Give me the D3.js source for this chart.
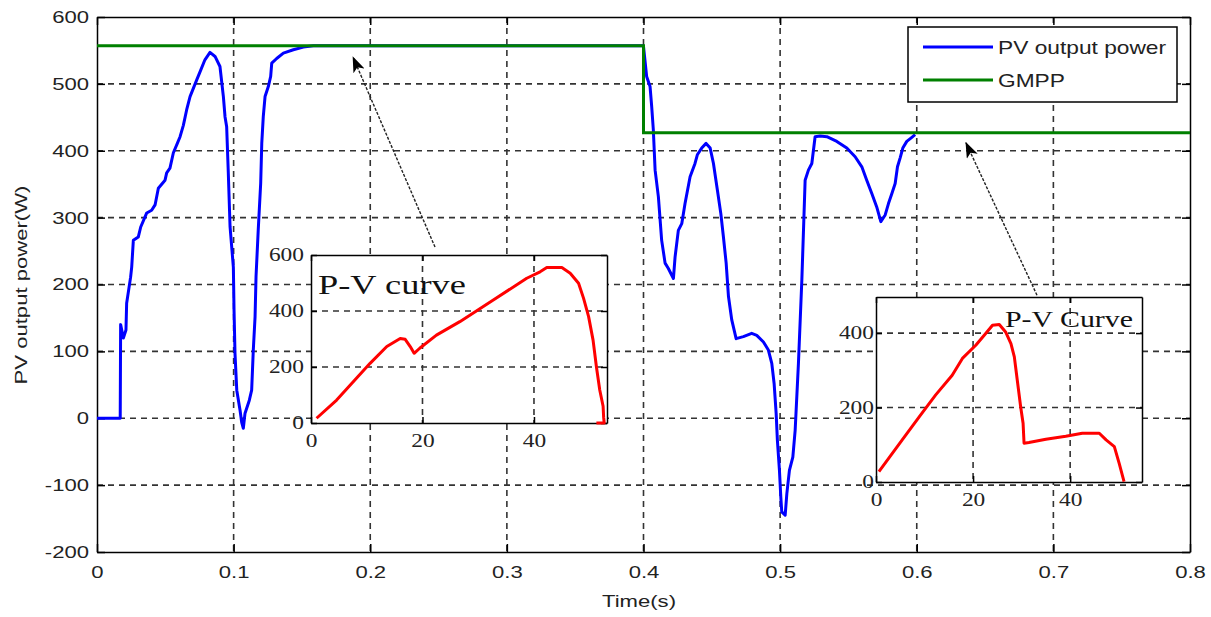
<!DOCTYPE html>
<html>
<head>
<meta charset="utf-8">
<script src="https://cdn.jsdelivr.net/npm/d3@7"></script>
<style>
  body { margin: 0; background: #fff; }
  svg { display: block; }
</style>
</head>
<body>
<svg id="chart" width="1211" height="617"></svg>
<script>
// PV output power (blue) - time in s, power in W
const pvTime = [0, 0.017, 0.0173, 0.0193, 0.0212, 0.0217, 0.0246, 0.0254, 0.0266, 0.0302, 0.032, 0.0364, 0.04, 0.0425,
  0.0449, 0.0498, 0.051, 0.0534, 0.0559, 0.0588, 0.0608, 0.0632, 0.0656, 0.0681, 0.073, 0.0754, 0.079, 0.0827, 0.0864,
  0.09, 0.0925, 0.0937, 0.0949, 0.0961, 0.0974, 0.0998, 0.1003, 0.101, 0.1023, 0.1047, 0.1059, 0.1071, 0.1083, 0.1115,
  0.1132, 0.1144, 0.1157, 0.1164, 0.118, 0.1198, 0.1206, 0.1217, 0.123, 0.1254, 0.1271, 0.1279, 0.1315, 0.1364, 0.1437,
  0.151, 0.1583, 0.25, 0.3995,
  0.4, 0.4023, 0.4048, 0.406, 0.4072, 0.4085, 0.4109, 0.4133, 0.4158, 0.4182, 0.4219, 0.4231, 0.4255, 0.428, 0.4304,
  0.4341, 0.4377, 0.4394, 0.4426, 0.4458, 0.4488, 0.4512, 0.4541, 0.4566, 0.4585, 0.4605, 0.4622, 0.4646, 0.4678,
  0.4731, 0.4792, 0.4829, 0.4878, 0.4914, 0.4939, 0.4956, 0.4971, 0.498, 0.4995, 0.5005, 0.5012, 0.5037, 0.5049,
  0.5068, 0.5093, 0.511, 0.5122, 0.5134, 0.5147, 0.5159, 0.5171, 0.5183, 0.5207, 0.5232, 0.5256, 0.5293, 0.5342,
  0.5415, 0.5488, 0.5549, 0.5598, 0.5634, 0.5671, 0.5707, 0.5737, 0.5769, 0.5793, 0.5818, 0.5842, 0.5859, 0.5878,
  0.5898, 0.5927, 0.5964, 0.5988];
const pvPower = [0, 0, 140, 120, 132, 172, 211, 226, 266, 271, 286, 307, 311, 319,
  344, 356, 367, 374, 397, 411, 421, 438, 461, 481, 506, 518, 536, 547, 541,
  526, 481, 451, 436, 367, 286, 226, 162, 97, 42, 12, -6, -15, 7, 27,
  42, 102, 152, 212, 281, 351, 411, 451, 481, 496, 511, 531, 538, 546, 551,
  555, 557, 557, 557,
  556, 511, 496, 466, 431, 371, 331, 266, 232, 224, 209, 241, 281, 291, 321,
  361, 381, 394, 404, 411, 404, 381, 341, 306, 271, 232, 182, 147, 119,
  122, 127, 124, 114, 102, 82, 52, 7, -33, -78, -118, -140, -145, -113,
  -78, -58, -18, 32, 82, 147, 207, 281, 356, 371, 381, 421, 422, 421,
  414, 404, 391, 376, 356, 336, 316, 294, 304, 321, 336, 351, 376, 389,
  404, 414, 420, 424];

// GMPP reference (green)
const gmppTime = [0, 0.4, 0.4, 0.8];
const gmppPower = [557, 557, 427, 427];

// P-V curve insets
const pv1Volt = [1, 4.6, 10.6, 13.6, 16, 16.9, 17.8, 18.5, 19.5, 22.5, 26.7, 32.7, 38.7, 41.1, 42.3, 45, 46.5,
  48, 48.9, 49.8, 50.6, 51.2, 51.8, 52.4, 52.5, 52.6, 51.2];
const pv1Pow = [17, 82, 213, 273, 302, 299, 273, 249, 267, 314, 362, 439, 517, 540, 555, 555, 535,
  499, 445, 380, 296, 201, 118, 60, 20, 0, 0];
const pv2Volt = [0.6, 5.4, 8.9, 12.3, 15.7, 17.8, 20.6, 22.6, 24, 25.4, 26.7, 27.8, 28.5, 29.1, 29.8, 30.3, 30.5,
  31.5, 35, 39.1, 42.5, 46, 47.4, 49.1, 50.1, 51.1];
const pv2Pow = [28, 113, 175, 234, 287, 332, 368, 399, 421, 423, 403, 372, 336, 274, 202, 158, 104,
  106, 115, 123, 131, 131, 113, 95, 50, 1];

const xTicks = [0, 0.1, 0.2, 0.3, 0.4, 0.5, 0.6, 0.7, 0.8];
const yTicks = [-200, -100, 0, 100, 200, 300, 400, 500, 600];

const legendNames = ["PV output power", "GMPP"];
const legendColors = ["#0000ff", "#008000"];

// arrows: [tail time, tail power, tip time, tip power]
const arrows = [
  [0.2474, 256, 0.1874, 540],
  [0.688, 184, 0.636, 412]
];

const svg = d3.select("#chart");
const mLeft = 97, mTop = 17, plotW = 1093, plotH = 535;
const gridColor = "#333";
const textColor = "#222";
const sans = '"Liberation Sans", Arial, sans-serif';
const serif = '"Liberation Serif", "Times New Roman", serif';
const stretch = 1.3; // the picture's text is wide along its reading direction

const x = d3.scaleLinear().domain([0, 0.8]).range([mLeft, mLeft + plotW]);
const y = d3.scaleLinear().domain([-200, 600]).range([mTop + plotH, mTop]);

function wideText(parent, px, py, str, font, size, anchor) {
  return parent.append("text")
    .attr("transform", `translate(${px},${py}) scale(${stretch},1)`)
    .attr("text-anchor", anchor || "start")
    .attr("fill", textColor)
    .style("font-family", font).style("font-size", size + "px")
    .text(str);
}

// grid
const grid = svg.append("g").attr("class", "grid");
grid.selectAll("line.gx").data(xTicks.slice(1, -1)).join("line")
  .attr("x1", d => x(d)).attr("x2", d => x(d))
  .attr("y1", mTop).attr("y2", mTop + plotH)
  .attr("stroke", gridColor).attr("stroke-width", 1.6).attr("stroke-dasharray", "6,5");
grid.selectAll("line.gy").data(yTicks.slice(1, -1)).join("line")
  .attr("x1", mLeft).attr("x2", mLeft + plotW)
  .attr("y1", d => y(d)).attr("y2", d => y(d))
  .attr("stroke", gridColor).attr("stroke-width", 1.6).attr("stroke-dasharray", "6,5");

// axes with inner ticks on all 4 sides
function boxAxes(g, sx, sy, xt, yt, w, h, x0, y0, opts) {
  const styleAxis = a => {
    a.select(".domain").attr("stroke", "#000").attr("stroke-width", 1.5);
    a.selectAll(".tick line").attr("stroke", "#000").attr("stroke-width", 1.5);
    a.selectAll(".tick text").attr("fill", textColor)
      .style("font-size", opts.fs + "px").style("font-family", opts.font)
      .attr("x", function () { return (+this.getAttribute("x") || 0) / stretch; })
      .attr("transform", `scale(${stretch},1)`);
  };
  g.append("g").attr("transform", `translate(0,${y0 + h})`)
    .call(d3.axisBottom(sx).tickValues(xt).tickSizeInner(-opts.tick).tickSizeOuter(0)
      .tickPadding(opts.padX).tickFormat(opts.fx))
    .call(styleAxis);
  g.append("g").attr("transform", `translate(${x0},0)`)
    .call(d3.axisLeft(sy).tickValues(yt).tickSizeInner(-opts.tick).tickSizeOuter(0)
      .tickPadding(opts.padY).tickFormat(opts.fy))
    .call(styleAxis);
  g.append("g").attr("transform", `translate(0,${y0})`)
    .call(d3.axisTop(sx).tickValues(xt).tickSizeInner(-opts.tick).tickSizeOuter(0).tickFormat(""))
    .call(styleAxis);
  g.append("g").attr("transform", `translate(${x0 + w},0)`)
    .call(d3.axisRight(sy).tickValues(yt).tickSizeInner(-opts.tick).tickSizeOuter(0).tickFormat(""))
    .call(styleAxis);
}

const mainAxes = svg.append("g");
boxAxes(mainAxes, x, y, xTicks, yTicks, plotW, plotH, mLeft, mTop, {
  tick: 8, padX: 14, padY: 8, fs: 17, font: sans,
  fx: d => d === 0 ? "0" : d.toFixed(1), fy: d => String(d)
});

// lines
const line = d3.line().x(d => x(d[0])).y(d => y(d[1]));
svg.append("path")
  .datum(d3.zip(pvTime, pvPower))
  .attr("d", line).attr("fill", "none")
  .attr("stroke", "#0000ff").attr("stroke-width", 3).attr("stroke-linejoin", "round");
svg.append("path")
  .datum(d3.zip(gmppTime, gmppPower))
  .attr("d", line).attr("fill", "none")
  .attr("stroke", "#008000").attr("stroke-width", 3);

// axis titles
wideText(svg, 639, 607, "Time(s)", sans, 17, "middle");
svg.append("text")
  .attr("transform", `translate(27,285) rotate(-90) scale(${stretch},1)`)
  .attr("text-anchor", "middle")
  .attr("fill", textColor)
  .style("font-family", sans).style("font-size", "17px")
  .text("PV output power(W)");

// legend
const lg = svg.append("g");
lg.append("rect").attr("x", 908).attr("y", 27).attr("width", 269).attr("height", 75)
  .attr("fill", "#fff").attr("stroke", "#000").attr("stroke-width", 1.5);
legendNames.forEach((name, i) => {
  const ly = 47 + i * 33;
  lg.append("line").attr("x1", 923).attr("x2", 993).attr("y1", ly).attr("y2", ly)
    .attr("stroke", legendColors[i]).attr("stroke-width", 3);
  wideText(lg, 998, ly + 6.5, name, sans, 17.5);
});

// arrows
const defs = svg.append("defs");
defs.append("marker").attr("id", "head")
  .attr("viewBox", "0 0 16 12").attr("refX", 15).attr("refY", 6)
  .attr("markerWidth", 16).attr("markerHeight", 12).attr("markerUnits", "userSpaceOnUse")
  .attr("orient", "auto")
  .append("path").attr("d", "M0,0 L16,6 L0,12 L4,6 Z").attr("fill", "#000");
svg.selectAll("line.arrow").data(arrows).join("line")
  .attr("class", "arrow")
  .attr("x1", d => x(d[0])).attr("y1", d => y(d[1]))
  .attr("x2", d => x(d[2])).attr("y2", d => y(d[3]))
  .attr("stroke", "#222").attr("stroke-width", 1.4).attr("stroke-dasharray", "3,1.5")
  .attr("marker-end", "url(#head)");

// inset plot
function inset(cfg) {
  const g = svg.append("g");
  const sx = d3.scaleLinear().domain(cfg.xDom).range([cfg.x0, cfg.x0 + cfg.w]);
  const sy = d3.scaleLinear().domain(cfg.yDom).range([cfg.y0 + cfg.h, cfg.y0]);
  g.append("rect").attr("x", cfg.x0).attr("y", cfg.y0).attr("width", cfg.w).attr("height", cfg.h).attr("fill", "#fff");
  g.selectAll("line.gx").data(cfg.xGrid).join("line")
    .attr("x1", d => sx(d)).attr("x2", d => sx(d)).attr("y1", cfg.y0).attr("y2", cfg.y0 + cfg.h)
    .attr("stroke", gridColor).attr("stroke-width", 1.6).attr("stroke-dasharray", "6,5");
  g.selectAll("line.gy").data(cfg.yGrid).join("line")
    .attr("x1", cfg.x0).attr("x2", cfg.x0 + cfg.w).attr("y1", d => sy(d)).attr("y2", d => sy(d))
    .attr("stroke", gridColor).attr("stroke-width", 1.6).attr("stroke-dasharray", "6,5");
  boxAxes(g, sx, sy, cfg.xTicks, cfg.yTicks, cfg.w, cfg.h, cfg.x0, cfg.y0, {
    tick: 6, padX: 11, padY: cfg.padY, fs: 18, font: serif,
    fx: d => String(d), fy: d => String(d)
  });
  g.append("path").datum(d3.zip(cfg.v, cfg.p))
    .attr("d", d3.line().x(d => sx(d[0])).y(d => sy(d[1])))
    .attr("fill", "none").attr("stroke", "#ff0000").attr("stroke-width", 3).attr("stroke-linejoin", "round");
  wideText(g, cfg.tx, cfg.ty, cfg.title, serif, cfg.tfs, cfg.anchor).attr("fill", "#111");
}

inset({
  x0: 311, y0: 255, w: 296, h: 168,
  xDom: [0, 53.1], yDom: [0, 600],
  xTicks: [0, 20, 40], yTicks: [0, 200, 400, 600],
  xGrid: [20, 40], yGrid: [200, 400], padY: 7,
  v: pv1Volt, p: pv1Pow,
  title: "P-V curve", tx: 318, ty: 294, anchor: "start", tfs: 28
});
inset({
  x0: 876, y0: 297, w: 266, h: 185,
  xDom: [0, 54.8], yDom: [0, 497],
  xTicks: [0, 20, 40], yTicks: [0, 200, 400],
  xGrid: [20, 40], yGrid: [200, 400], padY: 2,
  v: pv2Volt, p: pv2Pow,
  title: "P-V Curve", tx: 1133, ty: 327, anchor: "end", tfs: 23
});
</script>
</body>
</html>
